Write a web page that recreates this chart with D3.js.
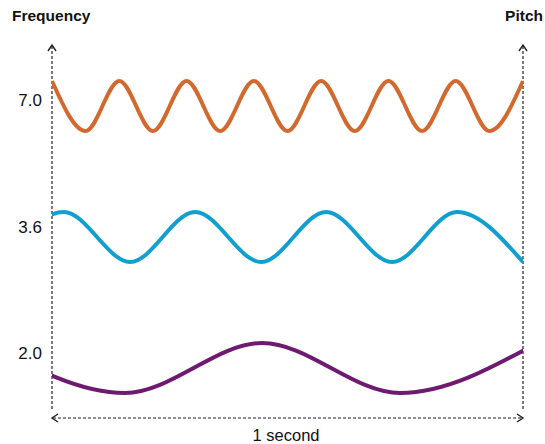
<!DOCTYPE html>
<html>
<head>
<meta charset="utf-8">
<script src="https://cdn.jsdelivr.net/npm/d3@7"></script>
<style>
  html, body { margin: 0; padding: 0; background: #fff; }
  svg { display: block; font-family: "Liberation Sans", Arial, sans-serif; }
</style>
</head>
<body>
<svg id="chart" width="545" height="444"></svg>
<script>
// ---- data ----
const frequencies = ["7.0", "3.6", "2.0"];
const seriesColors = ["#D2692F", "#119FD0", "#6E1A70"];
// extrema of each wave: time (seconds) and normalised level (+1 crest, -1 trough)
const orangeTimes  = [0, 0.0714, 0.1429, 0.2143, 0.2857, 0.3571, 0.4286, 0.5, 0.5714, 0.6429, 0.7143, 0.7857, 0.8571, 0.9286, 1.0];
const orangeLevels = [1, -1, 1, -1, 1, -1, 1, -1, 1, -1, 1, -1, 1, -1, 1];
const blueTimes    = [-0.115, 0.025, 0.166, 0.304, 0.444, 0.582, 0.722, 0.860, 1.0];
const blueLevels   = [-1, 1, -1, 1, -1, 1, -1, 1, -1];
const purpleTimes  = [-0.137, 0.155, 0.446, 0.739, 1.03];
const purpleLevels = [1, -1, 1, -1, 1];
const timeDomain = [0, 1];
const xLabel = "1 second";
const leftTitle = "Frequency";
const rightTitle = "Pitch";

const series = [
  { freq: frequencies[0], color: seriesColors[0], pts: orangeTimes.map((t, i) => [t, orangeLevels[i]]) },
  { freq: frequencies[1], color: seriesColors[1], pts: blueTimes.map((t, i) => [t, blueLevels[i]]) },
  { freq: frequencies[2], color: seriesColors[2], pts: purpleTimes.map((t, i) => [t, purpleLevels[i]]) }
];

// ---- layout ----
const svg = d3.select("#chart");
const x0 = 52, x1 = 523;
const x = d3.scaleLinear().domain(timeDomain).range([x0, x1]);
const center = d3.scalePoint().domain(frequencies).range([106, 368]);
const labelY = d3.scalePoint().domain(frequencies).range([106, 359]);
const amp = 25;

svg.append("defs").append("clipPath").attr("id", "clip")
  .append("rect").attr("x", x0).attr("y", 0).attr("width", x1 - x0).attr("height", 444);

const axisColor = "#222";

// dashed axes
const g = svg.append("g");
g.append("line").attr("x1", x0).attr("x2", x0).attr("y1", 409).attr("y2", 46)
  .attr("stroke", axisColor).attr("stroke-width", 1.2).attr("stroke-dasharray", "3,2");
g.append("line").attr("x1", x1).attr("x2", x1).attr("y1", 409).attr("y2", 46)
  .attr("stroke", axisColor).attr("stroke-width", 1.2).attr("stroke-dasharray", "3,2");
g.append("line").attr("x1", x0 + 1).attr("x2", x1 - 1).attr("y1", 418).attr("y2", 418)
  .attr("stroke", axisColor).attr("stroke-width", 1.2).attr("stroke-dasharray", "3,2");

// arrowheads
const chev = [
  `M${x0 - 4},${51} L${x0},${45} L${x0 + 4},${51}`,
  `M${x1 - 4},${51} L${x1},${45} L${x1 + 4},${51}`,
  `M${x0 + 6},${414} L${x0},${418} L${x0 + 6},${422}`,
  `M${x1 - 6},${414} L${x1},${418} L${x1 - 6},${422}`
];
g.selectAll("path.chev").data(chev).enter().append("path")
  .attr("class", "chev").attr("d", d => d)
  .attr("fill", "none").attr("stroke", axisColor).attr("stroke-width", 1.4);

// waves
const wg = svg.append("g").attr("clip-path", "url(#clip)");
series.forEach(s => {
  const y = d3.scaleLinear().domain([-1, 1]).range([center(s.freq) + amp, center(s.freq) - amp]);
  const line = d3.line().x(d => x(d[0])).y(d => y(d[1])).curve(d3.curveMonotoneX);
  wg.append("path").datum(s.pts).attr("d", line)
    .attr("fill", "none").attr("stroke", s.color).attr("stroke-width", 4)
    .attr("stroke-linecap", "butt");
});

// labels
svg.selectAll("text.freq").data(frequencies).enter().append("text")
  .attr("class", "freq").attr("x", 42).attr("y", d => labelY(d))
  .attr("text-anchor", "end").attr("font-size", 17).attr("fill", "#111").text(d => d);

svg.append("text").attr("x", 12).attr("y", 21).attr("font-size", 15.5)
  .attr("font-weight", "bold").attr("fill", "#111").text(leftTitle);
svg.append("text").attr("x", 543).attr("y", 21).attr("text-anchor", "end").attr("font-size", 15.5)
  .attr("font-weight", "bold").attr("fill", "#111").text(rightTitle);
svg.append("text").attr("x", 286).attr("y", 441).attr("text-anchor", "middle").attr("font-size", 16.5)
  .attr("fill", "#111").text(xLabel);
</script>
</body>
</html>
